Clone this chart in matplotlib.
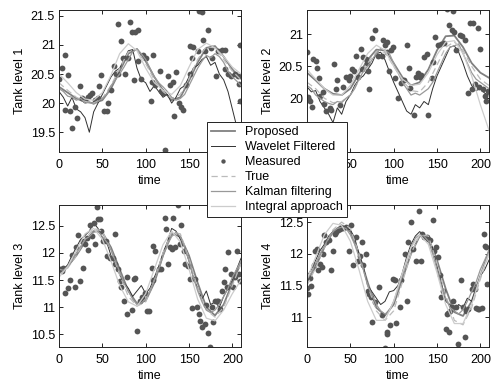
import numpy as np
import matplotlib
matplotlib.use("Agg")
import matplotlib.pyplot as plt
from matplotlib.ticker import FuncFormatter

plt.rcParams['font.family'] = ['Liberation Sans', 'DejaVu Sans']
plt.rcParams['font.size'] = 9

t10 = np.arange(0, 211, 10)
t5 = np.arange(0, 211, 5)

# ---- tank 1 ----
true1 = [20.35, 20.22, 20.1, 20.03, 20.0, 20.08, 20.3, 20.6, 20.88, 20.92, 20.68,
         20.4, 20.2, 20.08, 20.15, 20.42, 20.75, 20.97, 20.95, 20.75, 20.55, 20.4]
prop1 = [20.28, 20.18, 20.08, 20.02, 20.0, 20.05, 20.25, 20.55, 20.85, 20.93, 20.72,
         20.45, 20.22, 20.05, 20.1, 20.38, 20.7, 20.95, 20.98, 20.8, 20.58, 20.42]
integ1 = [20.5, 20.35, 20.18, 20.07, 20.05, 20.18, 20.48, 20.85, 21.02, 20.9, 20.6,
          20.35, 20.22, 20.15, 20.3, 20.62, 20.92, 21.03, 20.95, 20.8, 20.62, 20.5]
kalman1 = [20.25, 20.2, 20.12, 20.1, 20.05, 20.08, 20.0, 20.02, 19.98, 20.03, 20.08,
           20.15, 20.3, 20.4, 20.5, 20.62, 20.75, 20.88, 20.93, 20.85, 20.75, 20.6,
           20.45, 20.35, 20.28, 20.2, 20.1, 20.05, 20.08, 20.15, 20.3, 20.45, 20.6,
           20.72, 20.82, 20.78, 20.85, 20.8, 20.7, 20.55, 20.45, 20.38, 20.3]
wave1 = [20.2, 20.1, 19.95, 20.1, 19.9, 19.85, 19.75, 19.5, 19.85, 20.0, 20.15,
         20.3, 20.45, 20.55, 20.6, 20.75, 20.9, 20.92, 20.6, 20.4, 20.35, 20.2,
         20.3, 20.2, 20.1, 20.15, 20.0, 20.1, 20.25, 20.3, 20.45, 20.6, 20.65,
         20.75, 20.8, 20.65, 20.7, 20.5, 20.4, 20.2, 19.9, 19.6, 19.4]
meas_t1 = [0, 4, 7, 10, 7, 13, 15, 21, 19, 24, 27, 30, 33, 36, 38, 41, 45, 46, 49, 52,
           55, 57, 60, 63, 66, 68, 68, 71, 74, 76, 80, 82, 84, 88, 91, 87, 95, 91, 97,
           100, 109, 107, 111, 106, 116, 118, 120, 122, 126, 128, 132, 133, 135, 138,
           141, 143, 147, 151, 153, 151, 155, 160, 162, 165, 166, 172, 168, 175, 176,
           181, 184, 188, 192, 191, 195, 199, 203, 206, 208, 209, 209]
meas_v1 = [20.42, 20.6, 20.82, 20.48, 19.88, 19.86, 19.57, 19.75, 19.93, 20.29, 20.08,
           20.06, 20.11, 20.14, 20.17, 20.06, 20.08, 20.29, 20.48, 19.86, 19.86, 20.0,
           20.23, 20.64, 20.5, 20.5, 21.36, 21.07, 20.78, 20.5, 20.78, 21.4, 21.22,
           21.22, 21.25, 20.39, 20.42, 20.72, 20.83, 20.78, 20.82, 20.36, 20.31, 20.03,
           20.56, 20.21, 20.17, 19.2, 20.46, 20.31, 20.36, 19.78, 20.53, 20.0, 19.94,
           19.88, 20.31, 20.5, 20.78, 20.99, 20.97, 20.9, 21.58, 21.57, 21.08, 21.25,
           20.89, 20.94, 20.78, 20.47, 20.89, 20.92, 20.92, 20.58, 20.5, 20.47, 20.5,
           20.47, 20.33, 20.03, 21.0]

# ---- tank 2 ----
true2 = [20.25, 20.15, 20.0, 19.93, 19.95, 20.05, 20.28, 20.55, 20.73, 20.72, 20.5,
         20.28, 20.12, 20.1, 20.25, 20.52, 20.8, 20.88, 20.75, 20.5, 20.3, 20.2]
prop2 = [20.4, 20.28, 20.15, 20.07, 20.05, 20.15, 20.38, 20.6, 20.76, 20.75, 20.55,
         20.33, 20.2, 20.25, 20.45, 20.75, 20.97, 20.98, 20.8, 20.55, 20.4, 20.32]
integ2 = [20.45, 20.3, 20.15, 20.05, 20.05, 20.2, 20.45, 20.7, 20.83, 20.75, 20.5,
          20.3, 20.2, 20.22, 20.4, 20.68, 20.88, 20.9, 20.7, 20.35, 19.9, 19.5]
kalman2 = [20.2, 20.15, 20.05, 20.0, 19.95, 19.92, 19.9, 19.95, 19.93, 20.0, 20.05,
           20.15, 20.3, 20.42, 20.5, 20.6, 20.7, 20.78, 20.75, 20.7, 20.55, 20.4,
           20.25, 20.15, 20.05, 20.08, 20.05, 20.1, 20.15, 20.25, 20.4, 20.55, 20.7,
           20.8, 20.82, 20.85, 20.7, 20.55, 20.4, 20.3, 20.25, 20.2, 20.15]
wave2 = [20.18, 20.1, 20.12, 19.95, 19.85, 19.75, 19.62, 19.85, 19.75, 19.95, 20.05,
         20.2, 20.3, 20.35, 20.45, 20.55, 20.7, 20.72, 20.6, 20.42, 20.25, 20.1,
         19.95, 19.8, 19.75, 19.9, 19.85, 19.95, 19.9, 20.15, 20.35, 20.5, 20.65,
         20.8, 20.82, 20.72, 20.55, 20.35, 20.2, 20.12, 20.15, 20.08, 20.05]
meas_t2 = [0, 7, 10, 12, 14, 1, 3, 6, 15, 19, 20, 22, 26, 28, 31, 34, 35, 38, 42, 45,
           48, 50, 52, 54, 56, 59, 62, 63, 65, 68, 69, 70, 72, 75, 78, 82, 86, 88, 90,
           92, 92, 95, 97, 99, 101, 105, 109, 112, 115, 118, 119, 124, 126, 128, 130,
           131, 135, 138, 140, 144, 145, 148, 151, 155, 158, 162, 164, 167, 169, 170,
           172, 176, 179, 182, 188, 192, 197, 200, 194, 186, 190, 199, 203, 205, 207, 209]
meas_v2 = [20.73, 20.61, 20.58, 20.48, 20.31, 20.02, 19.96, 19.86, 20.03, 20.1, 19.91,
           19.8, 19.85, 19.81, 20.53, 20.14, 20.28, 19.9, 20.18, 20.34, 20.28, 20.35,
           20.45, 20.42, 20.66, 20.33, 20.77, 20.45, 20.64, 20.61, 20.55, 20.42, 20.15,
           20.94, 21.06, 20.66, 20.66, 20.91, 20.83, 20.88, 20.72, 20.42, 20.75, 20.8,
           20.31, 20.0, 20.24, 20.28, 20.83, 20.48, 20.16, 19.74, 20.34, 20.39, 20.34,
           20.37, 20.65, 20.69, 19.74, 20.31, 20.57, 20.96, 20.83, 20.85, 20.87, 21.39,
           21.14, 21.07, 21.37, 21.04, 20.75, 20.99, 20.98, 20.91, 21.18, 21.18, 21.1,
           20.77, 20.23, 20.08, 20.15, 20.18, 20.15, 20.03, 19.95, 20.12]

# ---- tank 3 ----
true3 = [11.6, 11.72, 11.95, 12.25, 12.45, 12.4, 12.05, 11.6, 11.2, 11.02, 11.1,
         11.5, 12.0, 12.38, 12.35, 11.9, 11.35, 10.95, 10.82, 11.0, 11.4, 11.8]
prop3 = [11.65, 11.75, 11.95, 12.2, 12.4, 12.38, 12.1, 11.7, 11.3, 11.07, 11.12,
         11.45, 11.95, 12.35, 12.3, 11.95, 11.45, 11.0, 10.85, 11.05, 11.45, 11.82]
integ3 = [11.55, 11.75, 12.05, 12.35, 12.45, 12.25, 11.85, 11.4, 11.1, 11.02, 11.25,
          11.7, 12.15, 12.4, 12.2, 11.7, 11.15, 10.8, 10.75, 10.95, 11.25, 11.5]
kalman3 = [11.7, 11.68, 11.75, 11.85, 12.0, 12.12, 12.25, 12.3, 12.38, 12.4, 12.3,
           12.2, 12.05, 11.85, 11.65, 11.45, 11.3, 11.15, 11.05, 11.08, 11.15, 11.3,
           11.5, 11.7, 11.95, 12.15, 12.3, 12.38, 12.3, 12.1, 11.85, 11.55, 11.3,
           11.1, 10.95, 10.9, 10.95, 11.05, 11.2, 11.35, 11.55, 11.7, 11.85]
wave3 = [11.72, 11.7, 11.78, 11.95, 12.1, 12.25, 12.32, 12.4, 12.55, 12.45, 12.28,
         12.2, 11.95, 11.8, 11.6, 11.45, 11.35, 11.2, 11.3, 11.4, 11.25, 11.35,
         11.55, 11.75, 12.0, 12.2, 12.45, 12.4, 12.25, 12.1, 11.85, 11.55, 11.35,
         11.15, 11.3, 11.05, 11.1, 11.0, 11.2, 11.35, 11.5, 11.7, 11.9]
meas_t3 = [1, 3, 5, 7, 10, 13, 15, 18, 20, 22, 24, 26, 28, 30, 32, 34, 36, 38, 40, 42,
           44, 45, 47, 49, 51, 54, 55, 59, 62, 65, 65, 68, 70, 72, 75, 78, 79, 84, 86,
           88, 90, 94, 96, 99, 101, 104, 107, 109, 109, 111, 115, 118, 122, 124, 126,
           128, 130, 132, 134, 137, 140, 141, 144, 145, 149, 151, 153, 157, 159, 161,
           163, 165, 169, 170, 172, 174, 176, 178, 180, 182, 184, 186, 188, 190, 192,
           194, 195, 199, 201, 203, 205, 208, 209]
meas_v3 = [11.7, 11.66, 11.73, 11.27, 11.35, 11.51, 11.96, 11.38, 12.1, 12.33, 11.49,
           12.21, 11.73, 12.16, 12.28, 12.05, 12.51, 12.31, 12.55, 12.16, 12.84, 12.62,
           12.62, 12.4, 12.22, 12.22, 11.95, 11.91, 11.91, 12.34, 11.79, 11.7, 11.49,
           11.38, 11.12, 11.55, 10.88, 10.95, 11.52, 11.54, 10.57, 11.12, 11.18, 11.27,
           10.94, 10.94, 11.72, 11.5, 12.13, 12.04, 11.7, 11.7, 12.65, 12.43, 11.79,
           12.1, 12.07, 12.65, 12.1, 12.88, 12.16, 12.51, 12.04, 11.8, 11.76, 11.52,
           10.99, 11.52, 11.01, 10.88, 10.74, 10.63, 10.7, 11.05, 10.52, 10.27, 11.0,
           10.73, 11.12, 11.11, 11.12, 10.97, 11.3, 11.46, 11.7, 11.38, 12.02, 11.62,
           11.38, 11.55, 12.04, 11.61, 11.49]

# ---- tank 4 ----
true4 = [11.5, 11.78, 12.1, 12.38, 12.5, 12.4, 12.0, 11.5, 11.1, 10.95, 11.1,
         11.55, 12.0, 12.3, 12.28, 11.85, 11.35, 10.95, 10.88, 11.15, 11.6, 12.0]
prop4 = [11.55, 11.8, 12.1, 12.35, 12.45, 12.35, 12.0, 11.55, 11.15, 11.03, 11.2,
         11.6, 12.0, 12.28, 12.25, 11.9, 11.45, 11.08, 11.02, 11.25, 11.65, 12.05]
integ4 = [11.6, 11.95, 12.3, 12.48, 12.45, 12.2, 11.75, 11.25, 10.95, 10.95, 11.25,
          11.7, 12.1, 12.3, 12.15, 11.7, 11.2, 10.9, 10.9, 11.2, 11.65, 12.0]
kalman4 = [11.6, 11.7, 11.85, 12.0, 12.12, 12.25, 12.35, 12.4, 12.42, 12.4, 12.3,
           12.15, 11.95, 11.75, 11.5, 11.35, 11.2, 11.1, 11.05, 11.1, 11.25, 11.45,
           11.65, 11.9, 12.1, 12.25, 12.3, 12.28, 12.2, 12.0, 11.75, 11.5, 11.3,
           11.15, 11.1, 11.05, 11.12, 11.25, 11.4, 11.55, 11.75, 11.9, 12.05]
wave4 = [11.65, 11.75, 11.9, 12.05, 12.15, 12.28, 12.35, 12.38, 12.45, 12.4, 12.38,
         12.25, 12.0, 11.8, 11.5, 11.4, 11.3, 11.2, 11.25, 11.4, 11.42, 11.5,
         11.7, 11.95, 12.15, 12.28, 12.35, 12.3, 12.2, 12.1, 11.8, 11.55, 11.25,
         11.2, 11.1, 11.2, 11.15, 11.3, 11.25, 11.45, 11.65, 11.75, 11.9]
meas_t4 = [0, 1, 5, 4, 8, 9, 11, 13, 15, 17, 19, 20, 22, 25, 28, 30, 32, 34, 36, 38,
           41, 45, 49, 51, 53, 56, 59, 61, 63, 65, 68, 70, 72, 74, 75, 79, 83, 87, 90,
           92, 92, 96, 99, 101, 103, 107, 109, 113, 115, 117, 120, 122, 126, 129, 131,
           133, 135, 138, 140, 142, 145, 146, 149, 151, 153, 155, 157, 161, 163, 165,
           167, 160, 164, 169, 172, 174, 178, 180, 182, 184, 186, 190, 192, 194, 195,
           197, 199, 202, 204, 205, 207, 208]
meas_v4 = [11.46, 11.37, 11.5, 11.62, 11.82, 12.05, 12.08, 11.74, 11.84, 11.79, 12.0,
           12.29, 12.18, 12.22, 11.74, 12.05, 12.32, 12.34, 12.37, 12.39, 12.41, 12.42,
           12.05, 12.45, 11.82, 12.26, 11.89, 11.97, 12.18, 11.82, 12.0, 11.42, 11.37,
           11.32, 10.92, 11.24, 11.48, 11.03, 10.52, 10.74, 10.76, 10.87, 11.6, 11.58,
           10.91, 11.16, 11.58, 12.0, 11.26, 12.18, 12.5, 12.08, 11.89, 12.68, 11.89,
           12.32, 12.26, 12.26, 12.24, 12.22, 12.53, 12.05, 12.1, 11.95, 11.66, 11.32,
           11.42, 11.05, 11.06, 11.1, 11.16, 10.82, 10.76, 11.26, 11.16, 10.57, 11.58,
           11.16, 10.68, 11.1, 11.13, 11.45, 11.53, 11.45, 11.15, 11.13, 11.13, 11.15,
           12.31, 12.13, 12.1, 11.53]

# y ticks per tank; labels hidden under the legend are left blank
tanks = [
    (true1, prop1, integ1, kalman1, wave1, meas_t1, meas_v1, (19.16, 21.6),
     [19.5, 20, 20.5, 21, 21.5], ['19.5', '20', '20.5', '21', '21.5']),
    (true2, prop2, integ2, kalman2, wave2, meas_t2, meas_v2, (19.16, 21.38),
     [19.5, 20, 20.5, 21], ['', '20', '20.5', '21']),
    (true3, prop3, integ3, kalman3, wave3, meas_t3, meas_v3, (10.27, 12.88),
     [10.5, 11, 11.5, 12, 12.5], ['10.5', '11', '11.5', '12', '12.5']),
    (true4, prop4, integ4, kalman4, wave4, meas_t4, meas_v4, (10.53, 12.77),
     [11, 11.5, 12, 12.5], ['11', '11.5', '12', '12.5']),
]

W, H = 491, 383
fig = plt.figure(figsize=(W / 100, H / 100), dpi=100)
boxes = [(59, 10), (307, 10), (59, 205), (307, 205)]
aw, ah = 182, 142

for k, (tr, pr, ig, km, wv, mt, mv, ylim, yt, ytl) in enumerate(tanks):
    x0, y0 = boxes[k]
    ax = fig.add_axes([x0 / W, 1 - (y0 + ah) / H, aw / W, ah / H])
    l_prop, = ax.plot(t10, pr, color='#808080', lw=1.3)
    l_wave, = ax.plot(t5, wv, color='#303030', lw=0.7)
    l_meas, = ax.plot(mt, mv, 'o', color='#555555', ms=4.2, mec='none')
    l_true, = ax.plot(t10, tr, color='#bbbbbb', lw=0.9, ls=(0, (5, 3)))
    l_kal, = ax.plot(t5, km, color='#999999', lw=0.9)
    l_int, = ax.plot(t10, ig, color='#cccccc', lw=0.9)
    ax.set_xlim(0, 210)
    ax.set_ylim(*ylim)
    ax.set_xticks([0, 50, 100, 150, 200])
    ax.set_yticks(yt)
    ax.set_yticklabels(ytl)
    ax.tick_params(direction='in', top=True, right=True, length=3, width=0.6,
                   labelsize=9)
    ax.tick_params(axis='x', pad=5)
    ax.tick_params(axis='y', pad=3)
    for s in ax.spines.values():
        s.set_linewidth(0.7)
        s.set_color('#222222')
    ax.set_xlabel('time', fontsize=9, labelpad=3)
    ax.set_ylabel('Tank level %d' % (k + 1), fontsize=9, labelpad=3)

leg = fig.legend([l_prop, l_wave, l_meas, l_true, l_kal, l_int],
                 ['Proposed', 'Wavelet Filtered', 'Measured', 'True',
                  'Kalman filtering', 'Integral approach'],
                 loc='upper left', bbox_to_anchor=(207 / W, 1 - 122 / H),
                 borderaxespad=0, fancybox=False, framealpha=1, edgecolor='#222222',
                 fontsize=9, handlelength=1.9, handletextpad=0.8, labelspacing=0.24,
                 borderpad=0.32, markerscale=0.75)
leg.get_frame().set_linewidth(0.7)

fig.savefig('out.png', dpi=100)
